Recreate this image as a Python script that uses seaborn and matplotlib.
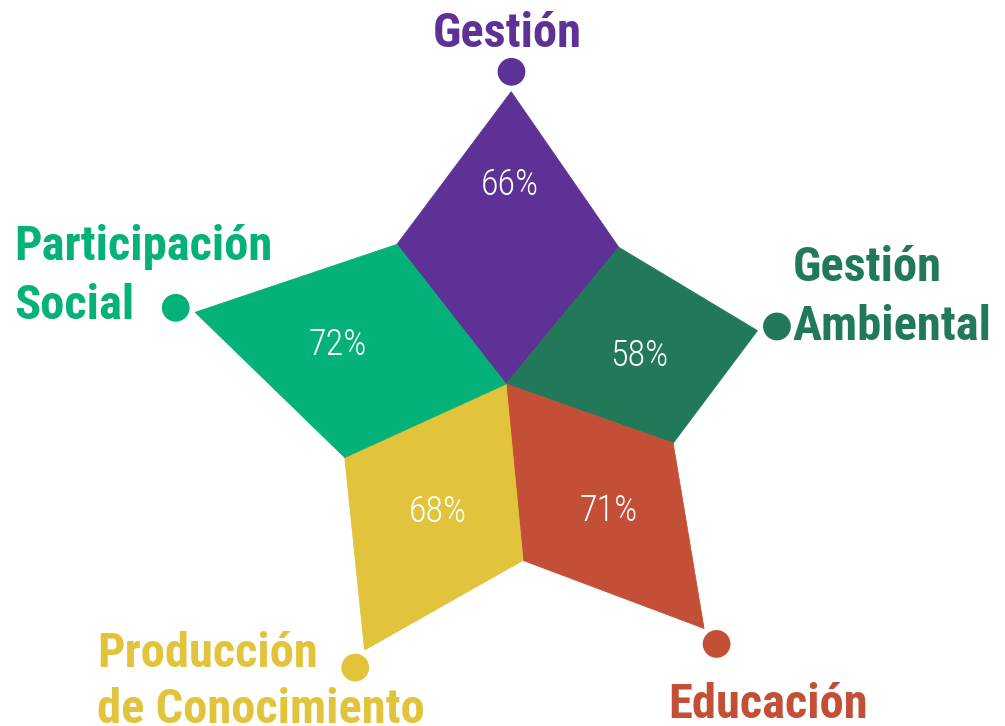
import numpy as np
import pandas as pd
import matplotlib
matplotlib.use("Agg")
import matplotlib.pyplot as plt
import seaborn as sns

# data
categories = ["Gestión", "Gestión Ambiental", "Educación",
              "Producción de Conocimiento", "Participación Social"]
values = [66, 58, 71, 68, 72]
label_lines = [["Gestión"], ["Gestión", "Ambiental"], ["Educación"],
               ["Producción", "de Conocimiento"], ["Participación", "Social"]]
colors = ["#5e3197", "#22795a", "#c44f37", "#e1c43b", "#04b179"]

# layout: direction of each petal (degrees) -- the star in the original is not quite regular
axis_deg = [89, 12, -51, -118, 167]
pct_pos = [0.68, 0.53, 0.52, 0.48, 0.54]   # where the % label sits along the petal
INNER = 40      # radius of the notches between petals (same units as values)
DOT_GAP = 4.5   # distance from petal tip to marker

sns.set_theme(style="white")
plt.rcParams["font.family"] = ["Roboto Condensed", "Liberation Sans Narrow", "DejaVu Sans"]

angles = np.deg2rad(axis_deg)
df = pd.DataFrame({"category": categories, "value": values, "angle": angles})
df["tip_x"] = df["value"] * np.cos(df["angle"])
df["tip_y"] = df["value"] * np.sin(df["angle"])
df["dot_x"] = (df["value"] + DOT_GAP) * np.cos(df["angle"])
df["dot_y"] = (df["value"] + DOT_GAP) * np.sin(df["angle"])

# notch angles: halfway between neighbouring petals
n = len(values)
notch = []
for i in range(n):
    a, b = angles[i], angles[(i + 1) % n]
    d = (b - a + np.pi) % (2 * np.pi) - np.pi
    notch.append(a + d / 2)

fig = plt.figure(figsize=(10.05, 7.26), dpi=100)
ax = fig.add_axes([0, 0, 1, 1])
ax.set_xlim(-114.2, 112.6)
ax.set_ylim(-77.2, 86.7)
ax.axis("off")

for i, row in df.iterrows():
    a = row["angle"]
    lo, hi = notch[i], notch[i - 1]
    xs = [0, INNER * np.cos(hi), row["tip_x"], INNER * np.cos(lo)]
    ys = [0, INNER * np.sin(hi), row["tip_y"], INNER * np.sin(lo)]
    ax.fill(xs, ys, color=colors[i], lw=0.6, ec=colors[i], zorder=1)
    # percentage label inside the petal
    r = pct_pos[i] * row["value"]
    ax.text(r * np.cos(a), r * np.sin(a), f"{row['value']}%", color="white",
            fontsize=26, fontweight="light", ha="center", va="center", zorder=3)

sns.scatterplot(data=df, x="dot_x", y="dot_y", hue="category",
                palette=colors, s=400, linewidth=0, legend=False, ax=ax, zorder=2)

# label offsets (points) from each marker, one per text line
offsets = [
    [(-3, 18)],
    [(11.5, 32.4), (11.5, -9.4)],
    [(-35, -53)],
    [(-186, 0.7), (-186, -40)],
    [(-116, 34.6), (-116, -7.9)],
]
aligns = ["center", "left", "left", "left", "left"]

for i, row in df.iterrows():
    for line, off in zip(label_lines[i], offsets[i]):
        ax.annotate(line, (row["dot_x"], row["dot_y"]), xytext=off,
                    textcoords="offset points", ha=aligns[i], va="baseline",
                    color=colors[i], fontsize=35, fontweight="bold",
                    annotation_clip=False)

fig.savefig("out.png", dpi=100)
